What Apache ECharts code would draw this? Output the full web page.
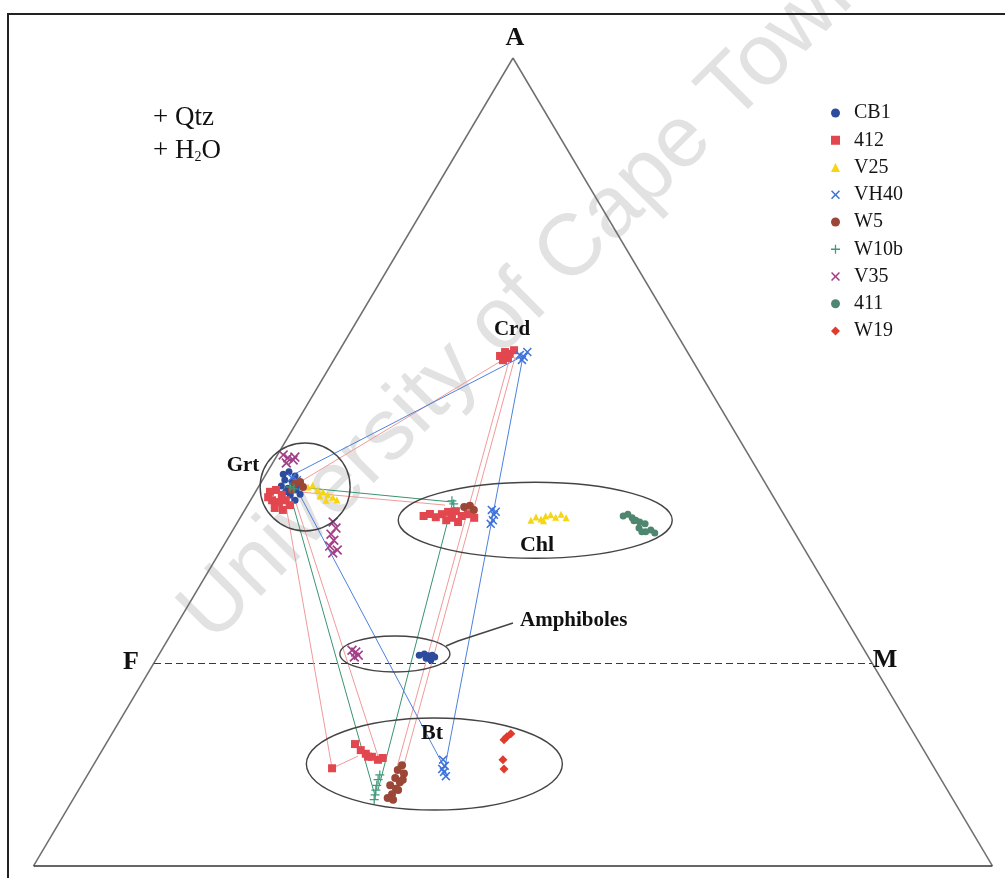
<!DOCTYPE html>
<html>
<head>
<meta charset="utf-8">
<script src="https://cdn.jsdelivr.net/npm/echarts/dist/echarts.min.js"></script>
<style>
  html, body { margin: 0; padding: 0; background: #ffffff; }
  #chart { width: 1005px; height: 878px; }
</style>
</head>
<body>
<div id="chart"></div>
<script>
// AFM projection: every composition is [A, F, M] in percent (A may be negative below the F–M line).
const sampleNames = ['CB1', '412', 'V25', 'VH40', 'W5', 'W10b', 'V35', '411', 'W19'];

const CB1 = [
  [31.2, 66.4, 2.4], [31.6, 65.4, 3.0], [30.9, 64.9, 4.2], [30.2, 66.6, 3.1], [29.9, 65.8, 4.3],
  [29.6, 65.1, 5.3], [29.3, 67.7, 3.1], [28.9, 66.9, 4.2], [28.6, 65.9, 5.5], [27.9, 65.7, 6.4],
  [27.8, 67.2, 5.1], [26.9, 66.9, 6.2], [28.3, 67.5, 4.2],
  [1.3, 62.4, 36.3], [1.5, 61.6, 36.9], [1.2, 61.2, 37.6], [1.3, 60.6, 38.1], [0.8, 61.7, 37.5],
  [0.5, 61.2, 38.3], [1.0, 60.4, 38.6]
];
const S412 = [
  [28.3, 69.7, 2.0], [28.6, 68.7, 2.7], [27.8, 68.3, 3.9], [26.9, 70.1, 3.0], [26.6, 69.3, 4.1],
  [26.9, 68.2, 4.9], [25.6, 70.3, 4.0], [25.3, 69.4, 5.3], [26.1, 68.0, 5.9], [27.4, 70.4, 2.2],
  [50.7, 26.4, 22.8], [51.4, 25.4, 23.2], [51.1, 24.9, 24.0], [51.7, 24.0, 24.3], [50.1, 26.4, 23.6],
  [50.4, 25.5, 24.1],
  [24.3, 50.3, 25.4], [24.6, 49.2, 26.1], [24.1, 48.7, 27.2], [24.6, 47.6, 27.8], [25.0, 46.6, 28.5],
  [24.0, 46.5, 29.5], [23.3, 46.0, 30.7], [24.3, 45.0, 30.7], [24.6, 44.0, 31.4], [24.0, 43.4, 32.6],
  [25.1, 45.4, 29.5], [23.6, 47.5, 28.9],
  [-17.4, 83.9, 33.5], [-13.4, 78.7, 34.7], [-14.4, 78.4, 36.0], [-15.0, 78.0, 37.0], [-15.5, 77.4, 38.1],
  [-16.0, 76.8, 39.2], [-15.7, 76.0, 39.7], [-15.5, 78.0, 37.6]
];
const V25 = [
  [29.1, 64.0, 6.9], [29.4, 63.2, 7.4], [28.6, 62.9, 8.5], [28.3, 62.3, 9.4], [27.8, 61.9, 10.3],
  [27.4, 61.4, 11.2], [26.9, 61.0, 12.0], [27.6, 63.1, 9.3], [26.9, 62.6, 10.5],
  [23.6, 35.7, 40.7], [24.1, 34.7, 41.1], [23.8, 34.2, 42.0], [24.3, 33.3, 42.4], [24.5, 32.5, 43.0],
  [24.1, 32.0, 43.9], [24.6, 31.0, 44.4], [24.0, 30.6, 45.4], [23.5, 34.0, 42.5]
];
const VH40 = [
  [30.6, 65.5, 3.9], [30.2, 65.0, 4.8],
  [50.9, 23.6, 25.5], [50.6, 23.2, 26.2], [51.4, 22.3, 26.3], [50.1, 23.7, 26.2],
  [25.3, 40.3, 34.4], [24.5, 40.4, 35.1], [23.6, 41.0, 35.4], [23.0, 41.6, 35.4], [25.0, 39.9, 35.1],
  [-16.0, 67.8, 48.3], [-17.0, 68.0, 49.0], [-18.0, 68.6, 49.4], [-18.7, 68.7, 50.0], [-17.5, 68.6, 48.9]
];
const W5 = [
  [29.6, 65.6, 4.8], [29.9, 64.7, 5.4], [29.1, 64.7, 6.2], [28.6, 66.5, 4.9],
  [25.8, 43.9, 30.3], [26.0, 43.0, 31.0], [25.3, 42.8, 31.9],
  [-16.9, 73.9, 43.0], [-17.7, 74.9, 42.8], [-18.3, 74.4, 44.0], [-19.0, 75.9, 43.1], [-19.7, 75.6, 44.1],
  [-20.2, 77.2, 43.0], [-20.8, 76.7, 44.1], [-21.7, 77.7, 44.0], [-22.3, 78.6, 43.7], [-22.6, 78.0, 44.6],
  [-21.0, 76.5, 44.5], [-19.3, 75.0, 44.3]
];
const W10b = [
  [29.1, 66.5, 4.4], [28.8, 66.1, 5.1],
  [26.8, 45.1, 28.1], [26.3, 45.1, 28.6],
  [-18.5, 77.8, 40.7], [-19.3, 78.5, 40.9], [-20.2, 79.0, 41.1], [-21.0, 79.6, 41.4], [-21.8, 80.1, 41.7],
  [-22.6, 80.7, 42.0]
];
const V35 = [
  [34.4, 64.8, 0.8], [33.9, 64.4, 1.7], [33.6, 63.9, 2.6], [33.1, 65.1, 1.9], [34.0, 63.3, 2.6],
  [23.3, 63.4, 13.3], [22.3, 63.5, 14.2], [21.3, 64.7, 14.0], [20.3, 64.8, 14.9], [19.3, 65.8, 14.8],
  [18.7, 65.2, 16.2], [18.2, 66.0, 15.8],
  [2.1, 71.3, 26.5], [1.8, 71.0, 27.2], [1.3, 70.9, 27.8], [1.0, 71.6, 27.4]
];
const S411 = [
  [24.3, 22.5, 53.2], [24.6, 21.7, 53.7], [24.0, 21.4, 54.6], [23.6, 21.1, 55.3], [23.3, 20.7, 56.0],
  [23.0, 20.1, 56.9], [22.3, 21.3, 56.4], [21.7, 20.7, 57.7], [22.0, 19.8, 58.2], [21.5, 19.5, 59.0],
  [21.7, 21.2, 57.1], [23.5, 21.4, 55.1]
];
const W19 = [
  [-12.7, 57.6, 55.1], [-12.2, 57.0, 55.3], [-11.7, 56.2, 55.6], [-16.0, 59.4, 56.6], [-17.5, 60.0, 57.5]
];

// Tie lines between coexisting phases, as pairs of compositions
const tie412 = [
  [[29.4, 65.7, 4.9], [50.6, 25.4, 24.0]],
  [[28.3, 65.8, 5.9], [26.1, 46.4, 27.5]],
  [[26.9, 68.3, 4.8], [-17.4, 83.9, 33.5]],
  [[26.9, 66.9, 6.2], [-15.5, 76.6, 39.0]],
  [[-17.4, 83.9, 33.5], [-15.4, 79.3, 36.1]],
  [[50.6, 25.1, 24.3], [-18.5, 75.7, 42.8]],
  [[50.6, 24.4, 25.0], [-19.3, 75.4, 43.9]]
];
const tieVH40 = [
  [[31.1, 65.1, 3.8], [50.7, 23.2, 26.0]],
  [[50.7, 23.2, 26.0], [-17.4, 68.2, 49.2]],
  [[27.8, 65.8, 6.4], [-17.4, 68.2, 49.2]]
];
const tieW10b = [
  [[29.1, 65.5, 5.4], [26.6, 45.1, 28.3]],
  [[26.6, 45.1, 28.3], [-21.0, 79.3, 41.7]],
  [[27.8, 67.2, 5.1], [-22.1, 80.3, 41.9]]
];

// Diagram frame: apex A, the F and M ends of the A = 0 line, and the two lower corners
const apexA = [100, 0, 0];
const endF = [0, 100, 0];
const endM = [0, 0, 100];
const cornerF = [-33.55, 133.55, 0];
const cornerM = [-33.55, 0, 133.55];

// Field outlines around phase groups: centre composition
const fieldGrt = [29.1, 64.4, 6.5];
const fieldChl = [23.6, 35.1, 41.3];
const fieldAmp = [1.5, 65.7, 32.8];
const fieldBt = [-16.7, 69.3, 47.4];

// Ternary -> plane: F at (0,0), M at (100,0), A at (50,100)
function toXY(c) {
  const s = c[0] + c[1] + c[2];
  const a = c[0] / s * 100, m = c[2] / s * 100;
  return [m + a / 2, a];
}

const serif = '"Liberation Serif", "Times New Roman", serif';
const X_PATH = 'path://M0,1.2 L1.2,0 L5,3.8 L8.8,0 L10,1.2 L6.2,5 L10,8.8 L8.8,10 L5,6.2 L1.2,10 L0,8.8 L3.8,5 Z';
const PLUS_PATH = 'path://M4.3,0 H5.7 V4.3 H10 V5.7 H5.7 V10 H4.3 V5.7 H0 V4.3 H4.3 Z';

const styles = {
  'CB1':  { data: CB1,  color: '#2d4b9c', symbol: 'circle',   size: 7 },
  '412':  { data: S412, color: '#e2474f', symbol: 'rect',     size: 8 },
  'V25':  { data: V25,  color: '#f6d512', symbol: 'triangle', size: 7 },
  'VH40': { data: VH40, color: '#3f73d9', symbol: X_PATH,     size: 9 },
  'W5':   { data: W5,   color: '#9b4636', symbol: 'circle',   size: 8 },
  'W10b': { data: W10b, color: '#3d9a7e', symbol: PLUS_PATH,  size: 9 },
  'V35':  { data: V35,  color: '#a23f87', symbol: X_PATH,     size: 10 },
  '411':  { data: S411, color: '#4f8670', symbol: 'circle',   size: 7 },
  'W19':  { data: W19,  color: '#e03b2c', symbol: 'diamond',  size: 9 }
};

function tieSeries(ties, color) {
  return {
    type: 'lines', coordinateSystem: 'cartesian2d', silent: true, z: 1,
    lineStyle: { color: color, width: 1, opacity: 1 },
    data: ties.map(t => ({ coords: [toXY(t[0]), toXY(t[1])] }))
  };
}

const series = [
  {
    type: 'lines', coordinateSystem: 'cartesian2d', silent: true, z: 1,
    lineStyle: { color: '#6e6e6e', width: 1.5, opacity: 1 },
    data: [
      { coords: [toXY(cornerF), toXY(apexA)] },
      { coords: [toXY(apexA), toXY(cornerM)] },
      { coords: [toXY(cornerF), toXY(cornerM)], lineStyle: { color: '#333', width: 1.6, opacity: 1 } }
    ]
  },
  {
    type: 'lines', coordinateSystem: 'cartesian2d', silent: true, z: 1,
    lineStyle: { color: '#3a3a3a', width: 1.2, type: [7, 4], opacity: 1 },
    data: [{ coords: [toXY(endF), toXY(endM)] }]
  },
  tieSeries(tie412, '#f19a9a'),
  tieSeries(tieVH40, '#4d82de'),
  tieSeries(tieW10b, '#3a9470')
];

sampleNames.forEach(name => {
  const s = styles[name];
  series.push({
    name: name, type: 'scatter', z: 3,
    symbol: s.symbol, symbolSize: s.size,
    itemStyle: { color: s.color, opacity: 1 },
    data: s.data.map(toXY)
  });
});

const chart = echarts.init(document.getElementById('chart'), null, { renderer: 'canvas' });

chart.setOption({
  animation: false,
  backgroundColor: '#ffffff',
  grid: { left: 10.4, right: 3.8, top: 27.75, bottom: 3.25 },
  xAxis: { type: 'value', min: -20, max: 118, show: false },
  yAxis: { type: 'value', min: -35, max: 105, show: false },
  legend: {
    orient: 'vertical', left: 826, top: 98,
    itemWidth: 9, itemHeight: 9, itemGap: 7.25,
    data: sampleNames,
    textStyle: { fontFamily: serif, fontSize: 20, color: '#151515', lineHeight: 20, padding: [0, 0, 0, 9] }
  },
  series: series
});

// Annotation layer: field outlines, phase labels, frame and note text
function px(c) { return chart.convertToPixel({ gridIndex: 0 }, toXY(c)); }
const pG = px(fieldGrt), pC = px(fieldChl), pA = px(fieldAmp), pB = px(fieldBt);
const ringStyle = { fill: 'none', stroke: '#444', lineWidth: 1.4 };
const bold = (size) => 'bold ' + size + 'px ' + serif;

chart.setOption({
  graphic: [
    {
      type: 'text', z: -10, silent: true,
      x: 527, y: 296, rotation: Math.PI / 4,
      style: {
        text: 'University of Cape Town', fill: '#e2e2e2',
        font: '87px "Liberation Sans", Arial, sans-serif', align: 'center', verticalAlign: 'middle'
      }
    },
    { type: 'polyline', z: 5, silent: true,
      shape: { points: [[8, 879], [8, 14], [1006, 14]] },
      style: { stroke: '#222', lineWidth: 2, fill: 'none' } },
    { type: 'ellipse', z: 5, silent: true, shape: { cx: pG[0], cy: pG[1], rx: 45, ry: 44 }, style: ringStyle },
    { type: 'ellipse', z: 5, silent: true, shape: { cx: pC[0], cy: pC[1], rx: 137, ry: 38 }, style: ringStyle },
    { type: 'ellipse', z: 5, silent: true, shape: { cx: pA[0], cy: pA[1], rx: 55, ry: 18 }, style: ringStyle },
    { type: 'ellipse', z: 5, silent: true, shape: { cx: pB[0], cy: pB[1], rx: 128, ry: 46 }, style: ringStyle },
    { type: 'polyline', z: 5, silent: true,
      shape: { points: [[446, 646], [458, 641], [513, 623]] },
      style: { stroke: '#444', lineWidth: 1.4, fill: 'none' } },
    { type: 'text', z: 6, x: 515, y: 38, style: { text: 'A', font: bold(26), fill: '#111', align: 'center', verticalAlign: 'middle' } },
    { type: 'text', z: 6, x: 131, y: 662, style: { text: 'F', font: bold(26), fill: '#111', align: 'center', verticalAlign: 'middle' } },
    { type: 'text', z: 6, x: 885, y: 660, style: { text: 'M', font: bold(26), fill: '#111', align: 'center', verticalAlign: 'middle' } },
    { type: 'text', z: 6, x: 512, y: 330, style: { text: 'Crd', font: bold(21), fill: '#111', align: 'center', verticalAlign: 'middle' } },
    { type: 'text', z: 6, x: 243, y: 466, style: { text: 'Grt', font: bold(21), fill: '#111', align: 'center', verticalAlign: 'middle' } },
    { type: 'text', z: 6, x: 537, y: 545, style: { text: 'Chl', font: bold(22), fill: '#111', align: 'center', verticalAlign: 'middle' } },
    { type: 'text', z: 6, x: 432, y: 733, style: { text: 'Bt', font: bold(22), fill: '#111', align: 'center', verticalAlign: 'middle' } },
    { type: 'text', z: 6, x: 520, y: 621, style: { text: 'Amphiboles', font: bold(21), fill: '#111', align: 'left', verticalAlign: 'middle' } },
    { type: 'text', z: 6, x: 153, y: 118, style: { text: '+ Qtz', font: '27px ' + serif, fill: '#111', align: 'left', verticalAlign: 'middle' } },
    { type: 'text', z: 6, x: 153, y: 151,
      style: {
        text: '+ H{s|2}O', font: '27px ' + serif, fill: '#111', align: 'left', verticalAlign: 'middle',
        rich: { s: { fontSize: 14, fontFamily: serif, fill: '#111', padding: [13, 0, 0, 0] } }
      } }
  ]
});
</script>
</body>
</html>
